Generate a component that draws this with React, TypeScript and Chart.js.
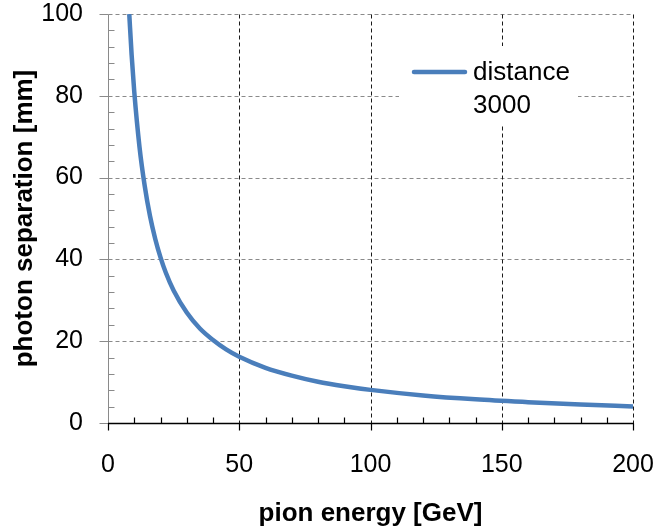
import React, { useEffect, useRef } from "react";
import { Chart, registerables } from "chart.js";

Chart.register(...registerables);

// pion energy [GeV]
const energies = [8.1, 9, 10, 12, 14, 16, 18, 20, 22, 25, 30, 35, 40, 45, 50, 60, 70, 80, 90, 100, 120, 140, 160, 180, 200];
// photon separation [mm]
const separations = [100, 90, 81, 67.5, 57.9, 50.6, 45, 40.5, 36.8, 32.4, 27, 23.1, 20.3, 18, 16.2, 13.5, 11.6, 10.1, 9, 8.1, 6.75, 5.8, 5.1, 4.5, 4.05];

const xTicks = [0, 50, 100, 150, 200];
const yTicks = [0, 20, 40, 60, 80, 100];
const xMinorStep = 10;
const yMinorStep = 4;
const seriesLabel = "distance 3000";
const xTitle = "pion energy [GeV]";
const yTitle = "photon separation [mm]";

const FONT = "'Liberation Sans', Arial, sans-serif";
const BLUE = "#4a7ebb";
const GRAY = "#8a8a8a";

const gridPlugin = {
  id: "excelGrid",
  beforeDatasetsDraw(chart: any) {
    const { ctx } = chart;
    const xs = chart.scales.x;
    const ys = chart.scales.y;
    const px = (v: number) => Math.round(xs.getPixelForValue(v)) + 0.5;
    const py = (v: number) => Math.round(ys.getPixelForValue(v)) + 0.5;
    const L = px(0), R = px(200), T = py(100), B = py(0);
    ctx.save();
    ctx.lineWidth = 1;
    ctx.setLineDash([4, 3]);
    ctx.strokeStyle = GRAY;
    yTicks.forEach((v) => {
      if (v === 0) return;
      ctx.beginPath();
      ctx.moveTo(L, py(v));
      ctx.lineTo(R, py(v));
      ctx.stroke();
    });
    ctx.strokeStyle = "#1a1a1a";
    xTicks.forEach((v) => {
      if (v === 0) return;
      ctx.beginPath();
      ctx.moveTo(px(v), T);
      ctx.lineTo(px(v), B);
      ctx.stroke();
    });
    ctx.setLineDash([]);
    ctx.strokeStyle = GRAY;
    ctx.beginPath();
    ctx.moveTo(L, T);
    ctx.lineTo(L, B);
    for (const v of yTicks) {
      ctx.moveTo(L - 9, py(v));
      ctx.lineTo(L, py(v));
    }
    for (let v = 0; v <= 100; v += yMinorStep) {
      if (v % 20 === 0) continue;
      ctx.moveTo(L, py(v));
      ctx.lineTo(L + 6, py(v));
    }
    ctx.stroke();
    ctx.strokeStyle = "#000";
    ctx.lineWidth = 1.5;
    ctx.beginPath();
    ctx.moveTo(L - 0.5, B);
    ctx.lineTo(R + 0.5, B);
    ctx.stroke();
    ctx.lineWidth = 1.2;
    ctx.beginPath();
    for (const v of xTicks) {
      ctx.moveTo(px(v), B);
      ctx.lineTo(px(v), B + 7);
    }
    for (let v = 0; v <= 200; v += xMinorStep) {
      if (v % 50 === 0) continue;
      ctx.moveTo(px(v), B);
      ctx.lineTo(px(v), B - 6);
    }
    ctx.stroke();
    // legend
    ctx.fillStyle = "#fff";
    ctx.fillRect(399, 46, 179, 80);
    ctx.strokeStyle = BLUE;
    ctx.lineWidth = 4.5;
    ctx.lineCap = "round";
    ctx.beginPath();
    ctx.moveTo(414, 72);
    ctx.lineTo(465, 72);
    ctx.stroke();
    ctx.fillStyle = "#000";
    ctx.font = `26px ${FONT}`;
    ctx.textBaseline = "alphabetic";
    ctx.textAlign = "left";
    const words = String(chart.data.datasets[0].label).split(" ");
    ctx.fillText(words[0], 473, 80);
    ctx.fillText(words.slice(1).join(" "), 473, 113);
    ctx.restore();
  },
};

export default function App() {
  const ref = useRef<HTMLCanvasElement | null>(null);
  useEffect(() => {
    if (!ref.current) return;
    const chart = new Chart(ref.current, {
      type: "line",
      data: {
        datasets: [
          {
            label: seriesLabel,
            data: energies.map((e, i) => ({ x: e, y: separations[i] })),
            borderColor: BLUE,
            backgroundColor: BLUE,
            borderWidth: 4.5,
            pointRadius: 0,
            cubicInterpolationMode: "monotone",
            fill: false,
          },
        ],
      },
      options: {
        animation: false,
        responsive: false,
        devicePixelRatio: 1,
        layout: { padding: { top: 14, right: 25, left: 0, bottom: 0 } },
        plugins: { legend: { display: false }, tooltip: { enabled: false } },
        scales: {
          x: {
            type: "linear",
            min: 0,
            max: 200,
            afterBuildTicks: (s: any) => {
              s.ticks = xTicks.map((v) => ({ value: v }));
            },
            afterFit: (s: any) => {
              s.height = 108;
              s.paddingLeft = 0;
              s.paddingRight = 0;
            },
            grid: { display: false, drawTicks: false },
            border: { display: false },
            ticks: {
              color: "#000",
              padding: 27,
              maxRotation: 0,
              font: { family: FONT, size: 25 },
            },
            title: {
              display: true,
              text: xTitle,
              color: "#000",
              padding: { top: 0, bottom: 2 },
              font: { family: FONT, size: 26, weight: "bold" },
            },
          },
          y: {
            type: "linear",
            min: 0,
            max: 100,
            afterBuildTicks: (s: any) => {
              s.ticks = yTicks.map((v) => ({ value: v }));
            },
            afterFit: (s: any) => {
              s.width = 108;
              s.paddingTop = 0;
              s.paddingBottom = 0;
            },
            grid: { display: false, drawTicks: false },
            border: { display: false },
            ticks: {
              color: "#000",
              padding: 25,
              font: { family: FONT, size: 25 },
            },
            title: {
              display: true,
              text: yTitle,
              color: "#000",
              padding: { top: 9, bottom: 0 },
              font: { family: FONT, size: 26, weight: "bold" },
            },
          },
        },
      },
      plugins: [gridPlugin],
    } as any);
    return () => chart.destroy();
  }, []);
  return (
    <div style={{ position: "fixed", left: 0, top: 0, width: 658, height: 531, background: "#fff" }}>
      <canvas ref={ref} width={658} height={531} />
    </div>
  );
}
